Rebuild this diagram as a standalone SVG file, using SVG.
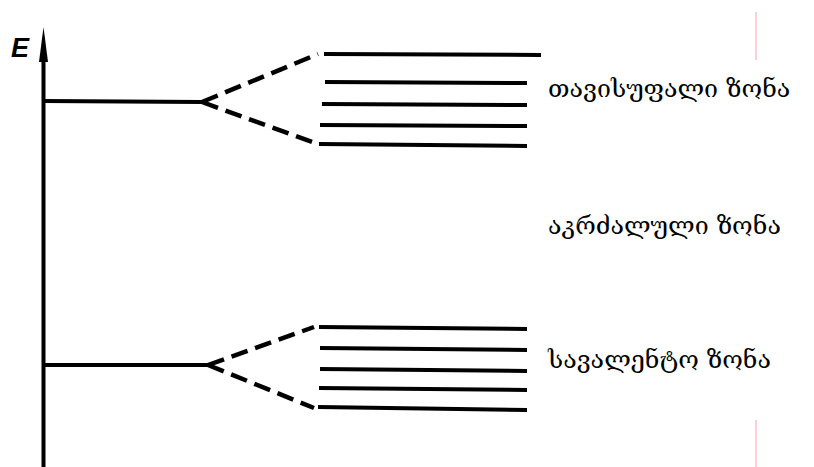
<svg xmlns="http://www.w3.org/2000/svg" width="814" height="467" viewBox="0 0 814 467">
<defs>
<style>
.lvl{stroke:#000;stroke-width:4;fill:none;stroke-linecap:butt}
.dash{stroke:#000;stroke-width:4.5;fill:none;stroke-dasharray:17 8}
.lbl{font-family:"DejaVu Serif","DejaVu Sans",serif;font-size:25px;fill:#000}
.pink{stroke:#f6c4c4;stroke-width:1.5}
</style>
</defs>
<rect width="814" height="467" fill="#fff"/>
<g id="axis">
<line x1="43.5" y1="52" x2="43.5" y2="467" class="lvl"/>
<polygon points="43.5,27 48,62 39,62" fill="#000"/>
<text x="11" y="57" font-family="Liberation Sans, sans-serif" font-style="italic" font-weight="bold" font-size="27" fill="#000">E</text>
</g>
<g id="connectors">
<line x1="44" y1="101" x2="202" y2="102" class="lvl"/>
<line x1="202" y1="102" x2="318" y2="54" class="dash"/>
<line x1="202" y1="102" x2="318" y2="144" class="dash"/>
<line x1="44" y1="365" x2="208" y2="365" class="lvl"/>
<line x1="208" y1="365" x2="314" y2="327" class="dash"/>
<line x1="208" y1="365" x2="314" y2="408" class="dash"/>
</g>
<g id="upper-band">
<line x1="324" y1="54" x2="541" y2="55" class="lvl"/>
<line x1="325" y1="82" x2="527" y2="83" class="lvl"/>
<line x1="322" y1="104" x2="527" y2="105" class="lvl"/>
<line x1="320" y1="125" x2="527" y2="126" class="lvl"/>
<line x1="319" y1="144" x2="527" y2="146" class="lvl"/>
</g>
<g id="lower-band">
<line x1="319" y1="327" x2="527" y2="329" class="lvl"/>
<line x1="320" y1="348" x2="527" y2="350" class="lvl"/>
<line x1="320" y1="369" x2="527" y2="371" class="lvl"/>
<line x1="319" y1="388" x2="527" y2="390" class="lvl"/>
<line x1="318" y1="407" x2="527" y2="410" class="lvl"/>
</g>
<g id="label-free">
<text x="548" y="97" class="lbl">თავისუფალი ზონა</text>
</g>
<g id="label-forbidden">
<text x="548" y="234" class="lbl">აკრძალული ზონა</text>
</g>
<g id="label-valence">
<text x="548" y="368" class="lbl">სავალენტო ზონა</text>
</g>
<line x1="756" y1="12" x2="756" y2="60" class="pink"/>
<line x1="756" y1="420" x2="756" y2="467" class="pink"/>
</svg>
